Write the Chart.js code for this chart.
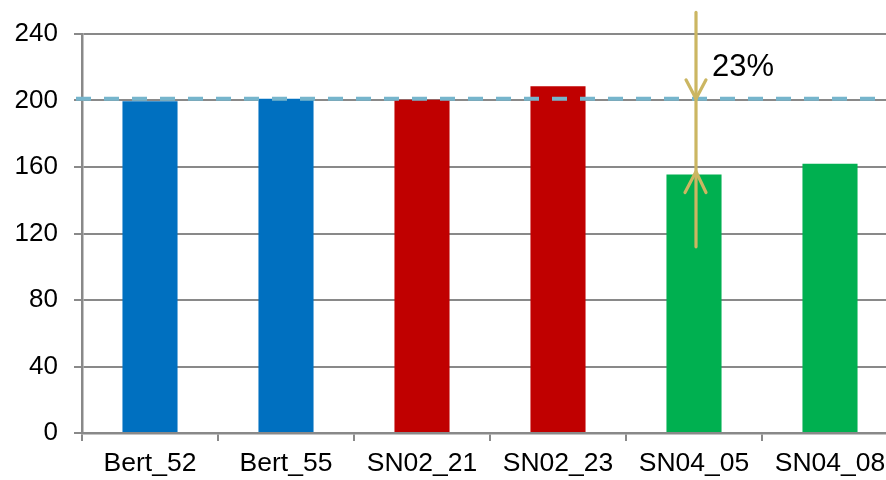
<!DOCTYPE html>
<html>
<head>
<meta charset="utf-8">
<script src="https://cdn.jsdelivr.net/npm/chart.js@4.4.1/dist/chart.umd.min.js"></script>
<style>
  html, body { margin: 0; padding: 0; background: #fff; overflow: hidden; }
  #wrap { width: 898px; height: 480px; }
</style>
</head>
<body>
<div id="wrap"><canvas id="chart"></canvas></div>
<script>
const categories = ['Bert_52', 'Bert_55', 'SN02_21', 'SN02_23', 'SN04_05', 'SN04_08'];
const values = [199.5, 201, 200.5, 208.5, 155.5, 162];
const barColors = ['#0070C0', '#0070C0', '#C00000', '#C00000', '#00B050', '#00B050'];
const yTicks = [0, 40, 80, 120, 160, 200, 240];
const refValue = 201;          // dashed reference line
const arrowIndex = 4;          // SN04_05
const arrowTop = 253;          // where the gold line starts (value)
const arrowBottom = 112;       // where the gold line ends (value)
const arrowLabel = '23%';

const overlay = {
  id: 'overlay',
  afterDatasetsDraw(chart) {
    const ctx = chart.ctx;
    const x = chart.scales.x;
    const y = chart.scales.y;
    const area = chart.chartArea;

    // dashed reference line
    const yRef = y.getPixelForValue(refValue);
    ctx.save();
    ctx.strokeStyle = '#76B5CC';
    ctx.lineWidth = 4;
    ctx.setLineDash([15, 13]);
    ctx.beginPath();
    ctx.moveTo(area.left - 6, yRef);
    ctx.lineTo(area.right - 22, yRef);
    ctx.stroke();
    ctx.restore();

    // gold arrow
    const ax = x.getPixelForValue(arrowIndex) + 2;
    const yBar = y.getPixelForValue(values[arrowIndex]) - 3;
    ctx.save();
    ctx.strokeStyle = '#CBB662';
    ctx.lineWidth = 3.2;
    ctx.lineCap = 'round';
    ctx.beginPath();
    ctx.moveTo(ax, y.getPixelForValue(arrowTop));
    ctx.lineTo(ax, y.getPixelForValue(arrowBottom));
    ctx.stroke();
    ctx.beginPath();
    ctx.moveTo(ax - 10, yRef - 19);
    ctx.lineTo(ax, yRef);
    ctx.lineTo(ax + 10, yRef - 19);
    ctx.stroke();
    ctx.beginPath();
    ctx.moveTo(ax - 11, yBar + 21);
    ctx.lineTo(ax, yBar);
    ctx.lineTo(ax + 10, yBar + 21);
    ctx.stroke();
    ctx.restore();

    ctx.save();
    ctx.fillStyle = '#000';
    ctx.font = '31px "Liberation Sans", Arial, sans-serif';
    ctx.textAlign = 'left';
    ctx.textBaseline = 'alphabetic';
    ctx.fillText(arrowLabel, ax + 16, yRef - 23);
    ctx.restore();
  }
};

new Chart(document.getElementById('chart'), {
  type: 'bar',
  data: {
    labels: categories,
    datasets: [{
      data: values,
      backgroundColor: barColors,
      barPercentage: 0.405,
      categoryPercentage: 1.0
    }]
  },
  options: {
    responsive: true,
    maintainAspectRatio: false,
    animation: false,
    layout: { padding: { top: 34, left: 0, right: 0, bottom: 0 } },
    plugins: { legend: { display: false }, tooltip: { enabled: false } },
    scales: {
      x: {
        afterFit(scale) { scale.height = 47; },
        grid: { drawOnChartArea: false, drawTicks: true, tickLength: 8, color: '#898989', lineWidth: 2, offset: true },
        border: { display: true, color: '#898989', width: 2.5 },
        ticks: { color: '#000', font: { family: '"Liberation Sans", Arial, sans-serif', size: 26.5 }, padding: 7, maxRotation: 0, autoSkip: false }
      },
      y: {
        min: 0,
        max: 240,
        afterFit(scale) { scale.width = 82; },
        afterBuildTicks(scale) { scale.ticks = yTicks.map(v => ({ value: v })); },
        grid: { color: '#898989', lineWidth: 2, tickLength: 8 },
        border: { display: true, color: '#898989', width: 2.5 },
        ticks: { color: '#000', font: { family: '"Liberation Sans", Arial, sans-serif', size: 26 }, padding: 16 }
      }
    }
  },
  plugins: [overlay]
});
</script>
</body>
</html>
